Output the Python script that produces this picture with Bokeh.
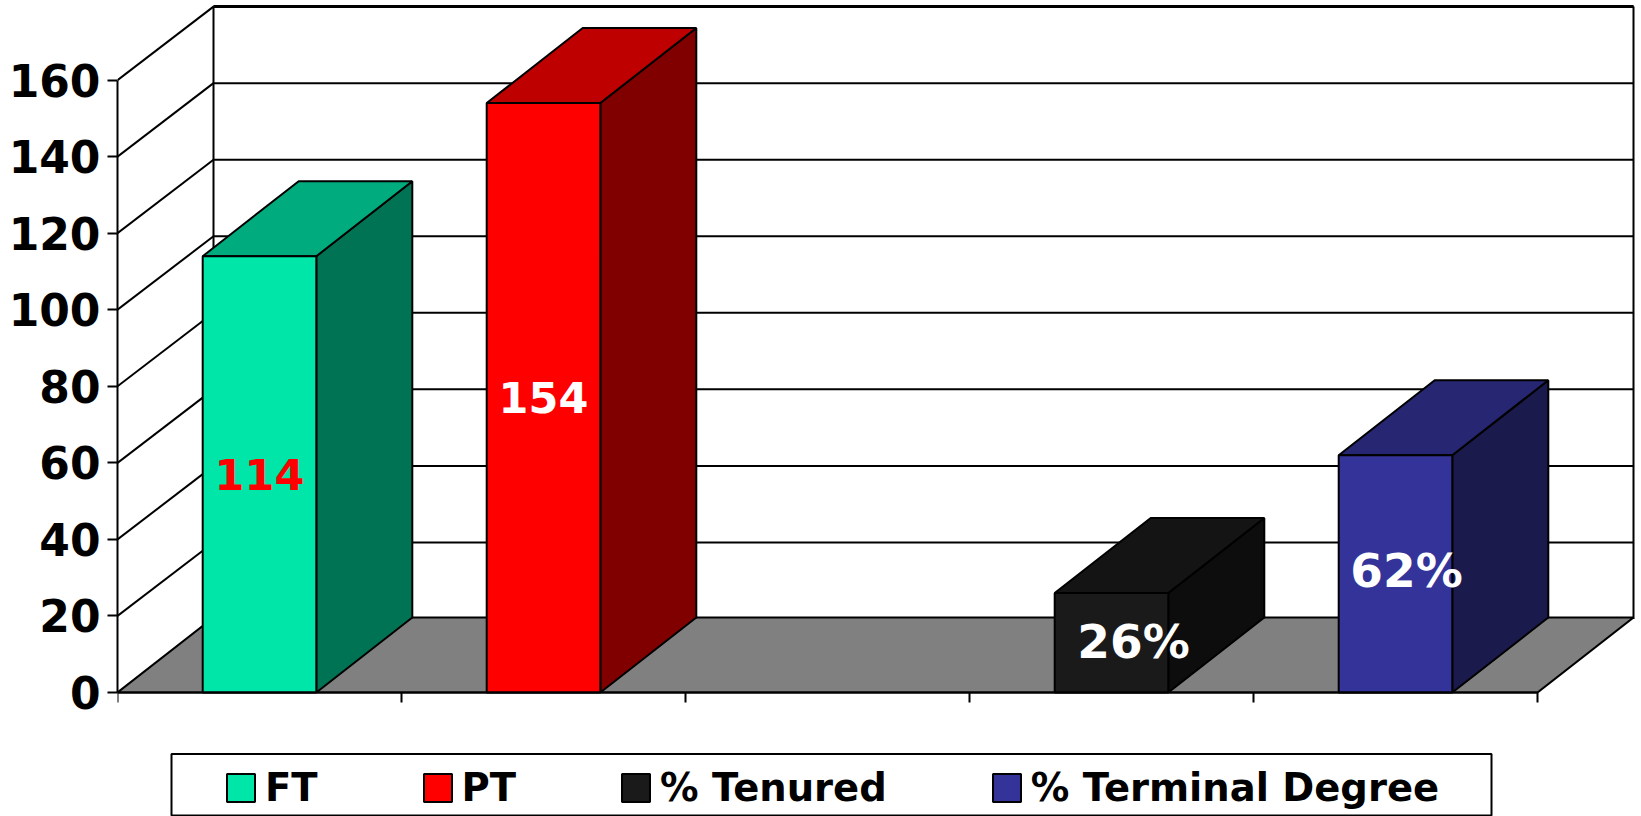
from bokeh.plotting import figure
from bokeh.models import (LinearAxis, FixedTicker, Legend, LegendItem, BoxAnnotation, Range1d,
                          ColumnDataSource)
from bokeh.core.properties import value
from bokeh.embed import file_html
from bokeh.resources import INLINE

series = ["FT", "PT", "% Tenured", "% Terminal Degree"]
values = [114, 154, 26, 62]
slots = [0, 1, 3, 4]                 # the third of five categories is empty
labels = ["114", "154", "26%", "62%"]
label_colors = ["#FF0000", "#FFFFFF", "#FFFFFF", "#FFFFFF"]
label_shift = [0, 0, 22, 11]
label_rise = [0, 0, -1, -3]
label_sizes = ["43px", "43px", "47px", "47px"]
front_colors = ["#00E6A8", "#FF0000", "#1A1A1A", "#333399"]
side_colors = ["#007354", "#800000", "#0D0D0D", "#1A1A4D"]
top_colors = ["#00AB7E", "#BF0000", "#141414", "#262673"]
y_ticks = [0, 20, 40, 60, 80, 100, 120, 140, 160]
x_ticks = [0, 1, 2, 3, 4, 5]

FONT = "DejaVu Sans"
CAT_PX = 284.0
VAL_PX = 3.8275
DX = 96.0 / CAT_PX
DY = 73.5 / VAL_PX           # depth of the walls
DYB = 75.0 / VAL_PX          # depth of the floor and the bars
BAR = 0.4
W, H = 1641, 816
LEFT, BASE = 117, 692        # pixel position of the value-axis line and of value 0
FW = W - LEFT

p = figure(width=W, height=H,
           x_range=Range1d(0, FW / CAT_PX), y_range=Range1d(-(H - BASE) / VAL_PX, BASE / VAL_PX),
           output_backend="svg", toolbar_location=None, x_axis_location=None, y_axis_location=None,
           min_border_left=LEFT, min_border_right=0, min_border_top=0, min_border_bottom=0,
           outline_line_color=None)
p.grid.visible = False

TOP = y_ticks[-1]
END = x_ticks[-1]
LW = 2

# back wall
p.multi_line([[DX, END + DX] for v in y_ticks[1:]], [[v + DY, v + DY] for v in y_ticks[1:]],
             line_color="#000000", line_width=LW)
p.line([DX, END + DX], [TOP + DY, TOP + DY], line_color="#000000", line_width=3)
# side wall ribs
p.multi_line([[0, DX] for v in y_ticks[1:]], [[v, v + DY] for v in y_ticks[1:]],
             line_color="#000000", line_width=LW)
p.line([DX, DX], [DY, TOP + DY], line_color="#000000", line_width=LW)
p.line([END + DX, END + DX], [DY, TOP + DY], line_color="#000000", line_width=LW)
# floor
p.patch([0, END, END + DX, DX], [0, 0, DYB, DYB], fill_color="#808080", line_color="#000000", line_width=2.2)

# 3-D bars
for name, val, slot, fc, sc, tc in zip(series, values, slots, front_colors, side_colors, top_colors):
    l, r = slot + 0.5 - BAR / 2, slot + 0.5 + BAR / 2
    p.patch([r, r + DX, r + DX, r], [0, DYB, val + DYB, val], fill_color=sc, line_color="#000000", line_width=LW)
    p.patch([l, r, r + DX, l + DX], [val, val, val + DYB, val + DYB], fill_color=tc, line_color="#000000", line_width=LW)

renderers = []
for name, val, slot, fc in zip(series, values, slots, front_colors):
    renderers.append(p.vbar(x=[slot + 0.5], top=[val], bottom=0, width=BAR, fill_color=fc,
                            line_color="#000000", line_width=LW))

src = ColumnDataSource(dict(x=[s + 0.5 for s in slots], y=[v / 2 for v in values], t=labels,
                            c=label_colors, o=label_shift, r=label_rise, s=label_sizes))
p.text(x="x", y="y", text="t", source=src, text_color="c", x_offset="o", y_offset="r",
       text_font=value(FONT), text_font_style="bold", text_font_size="s",
       text_align="center", text_baseline="middle")

# axes
ya = LinearAxis(ticker=FixedTicker(ticks=y_ticks), bounds=(0, TOP),
                axis_line_color="#000000", axis_line_width=LW,
                major_tick_line_color="#000000", major_tick_line_width=LW,
                major_tick_in=0, major_tick_out=10, minor_tick_line_color=None,
                major_label_text_font=FONT, major_label_text_font_style="bold",
                major_label_text_font_size="44px", major_label_text_color="#000000",
                major_label_standoff=7)
p.add_layout(ya, "left")
xa = LinearAxis(ticker=FixedTicker(ticks=x_ticks), bounds=(0, END), fixed_location=0,
                axis_line_color="#000000", axis_line_width=2.2,
                major_tick_line_color="#000000", major_tick_line_width=LW,
                major_tick_in=0, major_tick_out=10, minor_tick_line_color=None,
                major_label_overrides={t: "" for t in x_ticks}, major_label_text_font_size="1px",
                major_label_standoff=0)
p.add_layout(xa, "below")

# legend frame + legend
p.add_layout(BoxAnnotation(left=171, right=1491, top=753.5, bottom=815,
                           left_units="canvas", right_units="canvas", top_units="canvas", bottom_units="canvas",
                           fill_color="#FFFFFF", fill_alpha=1, line_color="#000000", line_alpha=1, line_width=2))
legend = Legend(items=[LegendItem(label=value(n), renderers=[r]) for n, r in zip(series, renderers)],
                orientation="horizontal", location=(106, 6), margin=0, padding=10, spacing=102,
                glyph_width=35, glyph_height=35, label_standoff=7,
                label_text_font=FONT, label_text_font_style="bold", label_text_font_size="38.5px",
                label_text_color="#000000", label_height=35,
                border_line_color=None, background_fill_alpha=0)
p.add_layout(legend, "center")

open("out.html", "w").write(file_html(p, INLINE))
